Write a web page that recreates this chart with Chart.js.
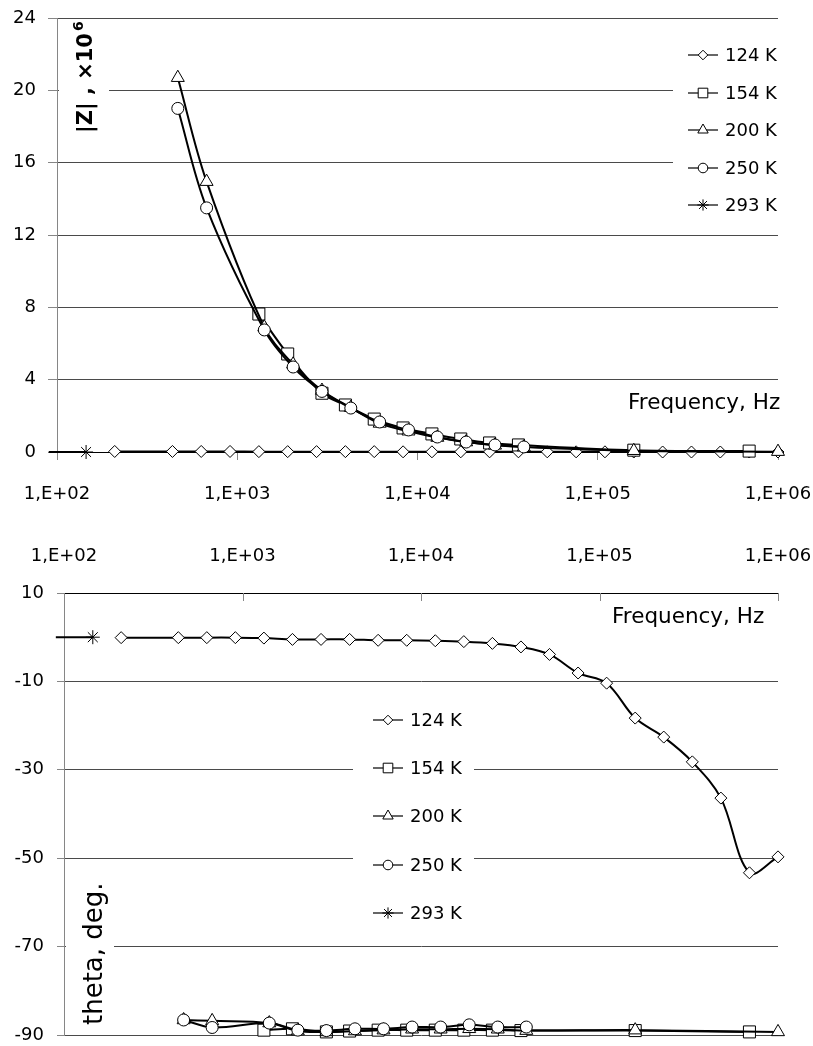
<!DOCTYPE html>
<html>
<head>
<meta charset="utf-8">
<script src="https://cdn.jsdelivr.net/npm/chart.js@4.4.1/dist/chart.umd.min.js"></script>
<style>
  html, body { margin: 0; padding: 0; background: #fff; }
  #wrap { position: relative; width: 813px; height: 1046px; }
  canvas { position: absolute; left: 0; }
  #zchart { top: 0; }
  #thetachart { top: 520px; }
</style>
</head>
<body>
<div id="wrap">
  <canvas id="zchart" width="813" height="520"></canvas>
  <canvas id="thetachart" width="813" height="526"></canvas>
</div>
<script>
const freq124 = [209, 437, 631, 912, 1318, 1905, 2754, 3981, 5754, 8318, 12023, 17378, 25119, 36308, 52481, 75858, 109648, 158489, 229087, 331131, 478630, 691831, 1000000];
const freq154 = [1318, 1905, 2951, 3981, 5754, 8318, 12023, 17378, 25119, 36308, 158489, 691831];
const freq200 = [468, 676, 1413, 2042, 2951, 4266, 6166, 8913, 12882, 18621, 26915, 38905, 158489, 1000000];
const freq250 = [468, 676, 1413, 2042, 2951, 4266, 6166, 8913, 12882, 18621, 26915, 38905];
const freq293 = [90, 145];

// |Z|, x10^6
const z124 = [0.03, 0.03, 0.03, 0.03, 0.02, 0.02, 0.02, 0.02, 0.02, 0.01, 0.01, 0.01, 0.01, 0.01, 0.01, 0.01, 0.01, 0, 0, 0, 0, 0, 0];
const z154 = [7.63, 5.42, 3.25, 2.6, 1.82, 1.33, 1.0, 0.72, 0.5, 0.39, 0.1, 0.05];
const z200 = [20.7, 14.95, 6.9, 4.85, 3.4, 2.45, 1.58, 1.15, 0.8, 0.55, 0.37, 0.27, 0.07, 0.02];
const z250 = [19.0, 13.5, 6.75, 4.7, 3.35, 2.43, 1.66, 1.22, 0.83, 0.55, 0.39, 0.28];
const z293 = [0, 0];

// theta, deg.
const theta124 = [-0.1, -0.1, -0.1, -0.1, -0.2, -0.5, -0.5, -0.5, -0.7, -0.7, -0.8, -1.0, -1.4, -2.2, -3.9, -8.1, -10.4, -18.3, -22.6, -28.2, -36.4, -53.3, -49.7];
const theta154 = [-88.9, -88.6, -89.3, -89.1, -88.9, -88.9, -88.9, -88.9, -88.9, -89.0, -89.0, -89.3];
const theta200 = [-86.6, -86.8, -87.3, -89.1, -89.3, -89.1, -88.9, -88.7, -88.7, -88.6, -88.7, -89.0, -88.9, -89.3];
const theta250 = [-86.6, -88.3, -87.3, -88.9, -89.0, -88.6, -88.6, -88.2, -88.2, -87.7, -88.2, -88.2];
const theta293 = [0, 0];

const seriesNames = ['124 K', '154 K', '200 K', '250 K', '293 K'];
const seriesMarkers = ['rectRot', 'rect', 'triangle', 'circle', 'star'];
const markerRadius = [6, 8.5, 7.5, 6, 7];

const xTickValues = [1e2, 1e3, 1e4, 1e5, 1e6];
const xTickLabels = ['1,E+02', '1,E+03', '1,E+04', '1,E+05', '1,E+06'];

const FONT = 'DejaVu Sans';
const GRID = '#4a4a4a';
const AXIS = '#868686';

const freqs = [freq124, freq154, freq200, freq250, freq293];

function makeDatasets(values) {
    return seriesNames.map((name, i) => ({
        label: name,
        data: freqs[i].map((f, j) => ({ x: f, y: values[i][j] })),
        borderColor: '#000',
        borderWidth: 2,
        pointStyle: seriesMarkers[i],
        // points below 100 Hz are off the axis: keep the line, hide the marker
        pointRadius: c => (c.raw && c.raw.x < 100 ? 0 : markerRadius[i]),
        pointBorderColor: '#000',
        pointBackgroundColor: '#fff',
        pointBorderWidth: 1,
        tension: 0.35,
        order: seriesNames.length - i,   // 124 K drawn first, like the original
        clip: { left: 10, top: 10, right: 10, bottom: 10 }
    }));
}

// legend + axis titles drawn inside the plot, on white boxes like Excel does
function decorPlugin(cfg) {
    return {
        id: 'decor',
        beforeDatasetsDraw(chart) {
            const ctx = chart.ctx;
            ctx.save();
            ctx.fillStyle = '#fff';
            cfg.boxes.forEach(b => ctx.fillRect(b[0], b[1], b[2], b[3]));

            // vertical axis title
            ctx.fillStyle = '#000';
            ctx.translate(cfg.yTitle.x, cfg.yTitle.y);
            ctx.rotate(-Math.PI / 2);
            ctx.font = cfg.yTitle.font;
            ctx.textBaseline = 'alphabetic';
            ctx.fillText(cfg.yTitle.text, 0, 0);
            if (cfg.yTitle.sup) {
                const w = ctx.measureText(cfg.yTitle.text).width;
                ctx.font = cfg.yTitle.supFont;
                ctx.fillText(cfg.yTitle.sup, w + 2, -9);
            }
            ctx.restore();

            ctx.save();
            ctx.fillStyle = '#000';
            ctx.font = '21.5px ' + FONT;
            ctx.textBaseline = 'alphabetic';
            ctx.fillText('Frequency, Hz', cfg.xTitle.x, cfg.xTitle.y);

            // legend
            ctx.font = '18px ' + FONT;
            ctx.textBaseline = 'middle';
            seriesNames.forEach((name, i) => {
                const y = cfg.legend.ys[i];
                ctx.strokeStyle = '#000';
                ctx.lineWidth = 1.2;
                ctx.beginPath();
                ctx.moveTo(cfg.legend.x - 15, y);
                ctx.lineTo(cfg.legend.x + 15, y);
                ctx.stroke();
                ctx.fillStyle = '#fff';
                ctx.lineWidth = 1;
                Chart.helpers.drawPoint(ctx, {
                    pointStyle: seriesMarkers[i], radius: markerRadius[i] * 0.8, borderWidth: 1, rotation: 0
                }, cfg.legend.x, y);
                ctx.fillStyle = '#000';
                ctx.fillText(name, cfg.legend.x + 22, y + 1);
            });

            // inward tick marks for an axis placed on top
            if (cfg.innerTicks) {
                const xs = chart.scales.x;
                const top = chart.chartArea.top;
                ctx.strokeStyle = AXIS;
                ctx.lineWidth = 1;
                xTickValues.forEach(v => {
                    const px = Math.round(xs.getPixelForValue(v)) + 0.5;
                    ctx.beginPath();
                    ctx.moveTo(px, top);
                    ctx.lineTo(px, top + 8);
                    ctx.stroke();
                });
            }
            ctx.restore();
        }
    };
}

// the plot area is placed by layout padding only, not by label overhang
function noOverhang(s) {
    s.paddingLeft = 0;
    s.paddingRight = 0;
    s.paddingTop = 0;
    s.paddingBottom = 0;
}

function xAxis(position, height, padding) {
    return {
        type: 'logarithmic',
        position: position,
        min: 100,
        max: 1e6,
        afterBuildTicks: s => { s.ticks = xTickValues.map(v => ({ value: v })); },
        afterFit: s => { s.height = height; noOverhang(s); },
        ticks: {
            autoSkip: false,
            maxRotation: 0,
            padding: padding,
            color: '#000',
            font: { family: FONT, size: 18 },
            callback: (v, i) => xTickLabels[i]
        },
        grid: {
            drawOnChartArea: false,
            drawTicks: position === 'bottom',
            tickLength: 8,
            color: AXIS
        },
        border: { color: '#000', width: 1 }
    };
}

function yAxis(min, max, step, width, tickLen, padding) {
    return {
        min: min,
        max: max,
        afterFit: s => { s.width = width; noOverhang(s); },
        ticks: {
            stepSize: step,
            padding: padding,
            color: '#000',
            font: { family: FONT, size: 18 }
        },
        grid: { color: GRID, tickLength: tickLen, tickColor: AXIS },
        border: { color: AXIS, width: 1 }
    };
}

const commonOpts = {
    responsive: false,
    animation: false,
    devicePixelRatio: 1,
    plugins: { legend: { display: false }, tooltip: { enabled: false } }
};

new Chart(document.getElementById('zchart'), {
    type: 'line',
    data: { datasets: makeDatasets([z124, z154, z200, z250, z293]) },
    options: Object.assign({}, commonOpts, {
        layout: { padding: { top: 18, right: 35, left: 0, bottom: 0 } },
        scales: {
            x: xAxis('bottom', 68, 24),
            y: yAxis(0, 24, 4, 57, 9, 12)
        }
    }),
    plugins: [decorPlugin({
        boxes: [[59, 22, 50, 118], [673, 34, 140, 190]],
        yTitle: { x: 92, y: 133, text: '|Z| , ×10', sup: '6', font: 'bold 21px ' + FONT, supFont: 'bold 14px ' + FONT },
        xTitle: { x: 628, y: 409 },
        legend: { x: 703, ys: [55, 93, 130, 168, 205] }
    })]
});

new Chart(document.getElementById('thetachart'), {
    type: 'line',
    data: { datasets: makeDatasets([theta124, theta154, theta200, theta250, theta293]) },
    options: Object.assign({}, commonOpts, {
        layout: { padding: { top: 0, right: 35, left: 0, bottom: 11 } },
        scales: {
            x: xAxis('top', 73, 26),
            y: yAxis(-90, 10, 20, 64, 7, 13)
        }
    }),
    plugins: [decorPlugin({
        boxes: [[66, 352, 48, 160], [353, 180, 121, 235]],
        yTitle: { x: 102, y: 505, text: 'theta, deg.', font: '26px ' + FONT },
        xTitle: { x: 612, y: 103 },
        legend: { x: 388, ys: [200, 248, 296, 345, 393] },
        innerTicks: true
    })]
});
</script>
</body>
</html>
